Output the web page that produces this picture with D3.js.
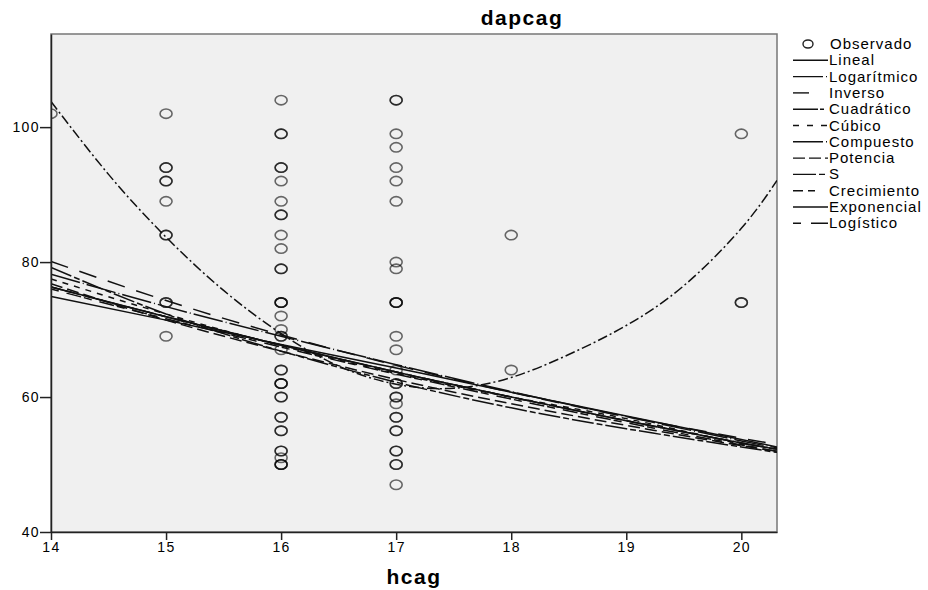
<!DOCTYPE html>
<html lang="es">
    <head>
        <meta charset="utf-8">
        <style>
            body {
                margin: 0;
                background: #fff;
            }

            text {
                font-family: "Liberation Sans", Arial, sans-serif;
                fill: #000;
            }

            .axis text {
                font-size: 14px;
                letter-spacing: 1.4px;
            }

            .axis path, .axis line {
                stroke: #222;
                stroke-width: 1.5px;
            }

            .legend text {
                font-size: 15px;
                letter-spacing: 1px;
            }
        </style>
    </head>
    <body>
        <div id="chart"></div>
        <script src="https://cdn.jsdelivr.net/npm/d3@7"></script>
        <script type="text/javascript" charset="utf-8">
            // observed points (bold circles in the picture are repeated values)
            var hcagObs = [14,
                15, 15, 15, 15, 15, 15, 15, 15, 15, 15, 15,
                16, 16, 16, 16, 16, 16, 16, 16, 16, 16, 16, 16, 16, 16, 16, 16, 16, 16, 16, 16, 16, 16, 16,
                16, 16, 16, 16, 16, 16, 16, 16, 16, 16, 16, 16, 16, 16, 16,
                17, 17, 17, 17, 17, 17, 17, 17, 17, 17, 17, 17, 17, 17, 17, 17, 17, 17, 17, 17, 17, 17, 17,
                17, 17, 17, 17, 17, 17,
                18, 18,
                20, 20, 20];
            var dapcagObs = [102,
                102, 94, 94, 92, 92, 89, 84, 84, 74, 74, 69,
                104, 99, 99, 94, 94, 92, 89, 87, 87, 84, 82, 79, 79, 74, 74, 74, 72, 70, 69, 69, 67, 64, 64,
                62, 62, 62, 60, 60, 57, 57, 55, 55, 52, 52, 51, 50, 50, 50,
                104, 104, 99, 97, 94, 92, 89, 80, 79, 74, 74, 74, 69, 67, 64, 62, 62, 60, 60, 59, 57, 57, 55,
                55, 52, 52, 50, 50, 47,
                84, 64,
                99, 74, 74];

            // fitted curves, values
            var fitX = [14, 15, 16, 17, 18, 19, 20, 20.31];
            var lineal = [74.9, 71.4, 67.8, 64.3, 60.7, 57.2, 53.7, 52.6];
            var logaritmico = [78.2, 73.4, 69.0, 64.8, 60.8, 57.1, 53.5, 52.5];
            var inverso = [80.1, 74.3, 69.2, 64.7, 60.7, 57.1, 53.9, 53.0];
            var cubico = [77.5, 72.3, 67.6, 63.5, 60.0, 56.8, 53.0, 51.8];
            var compuesto = [76.3, 71.9, 67.7, 63.7, 60.0, 56.5, 53.2, 52.3];
            var potencia = [76.8, 71.4, 66.8, 62.6, 59.0, 55.8, 52.8, 52.0];
            var sCurva = [79.2, 72.3, 66.8, 62.2, 58.4, 55.3, 52.6, 51.8];
            var crecimiento = [76.3, 71.9, 67.7, 63.7, 60.0, 56.5, 53.2, 52.3];
            var exponencial = [76.3, 71.9, 67.7, 63.7, 60.0, 56.5, 53.2, 52.3];
            var logistico = [76.0, 71.6, 67.4, 63.4, 59.7, 56.2, 52.9, 52.0];

            var cuadX = [14, 14.5, 15, 15.5, 16, 16.5, 17, 17.5, 18, 18.5, 19, 19.5, 20, 20.31];
            var cuadratico = [103.8, 93.0, 83.7, 75.8, 69.4, 64.6, 61.9, 61.3, 62.9, 66.3, 70.6, 76.5, 85.0, 92.1];

            var xTicks = [14, 15, 16, 17, 18, 19, 20];
            var yTicks = [40, 60, 80, 100];

            var legendNames = ["Lineal", "Logarítmico", "Inverso", "Cuadrático", "Cúbico", "Compuesto",
                "Potencia", "S", "Crecimiento", "Exponencial", "Logístico"];

            var curves = [
                {x: fitX, y: lineal, dash: null},
                {x: fitX, y: logaritmico, dash: "30,3,1,3"},
                {x: fitX, y: inverso, dash: "18,12"},
                {x: cuadX, y: cuadratico, dash: "10,3,2,3"},
                {x: fitX, y: cubico, dash: "6,6"},
                {x: fitX, y: compuesto, dash: "30,3,1,3"},
                {x: fitX, y: potencia, dash: "12,5"},
                {x: fitX, y: sCurva, dash: "22,3,6,3"},
                {x: fitX, y: crecimiento, dash: "10,5,7,10"},
                {x: fitX, y: exponencial, dash: null},
                {x: fitX, y: logistico, dash: "8,8,15,3"}
            ];
            var legendDash = [null, "30,3,1,3", "16,20", "25,2,4,4", "6,8", "30,3,1,3",
                "12,4", "23,3,6,3", "10,5,7,20", null, "8,10,17,3"];

            var width = 928, height = 590;
            var plotL = 51, plotR = 777, plotT = 34, plotB = 532;

            var svg = d3.select("#chart").append("svg")
                .attr("width", width)
                .attr("height", height);

            var x = d3.scaleLinear().domain([14, 20.31]).range([plotL, plotR]);
            var y = d3.scaleLinear().domain([40, 113.8]).range([plotB, plotT]);

            svg.append("rect")
                .attr("x", plotL).attr("y", plotT)
                .attr("width", plotR - plotL).attr("height", plotB - plotT)
                .attr("fill", "#f0f0f0")
                .attr("stroke", "#777")
                .attr("stroke-width", 1.5);

            svg.append("clipPath").attr("id", "plot")
                .append("rect")
                .attr("x", plotL).attr("y", plotT)
                .attr("width", plotR - plotL).attr("height", plotB - plotT);

            var plot = svg.append("g").attr("clip-path", "url(#plot)");

            plot.selectAll("ellipse")
                .data(hcagObs).enter()
                .append("ellipse")
                .attr("cx", function(d) { return x(d); })
                .attr("cy", function(d, i) { return y(dapcagObs[i]); })
                .attr("rx", 6)
                .attr("ry", 4.7)
                .attr("fill", "none")
                .attr("stroke", "#000")
                .attr("stroke-opacity", 0.58)
                .attr("stroke-width", 1.6);

            curves.forEach(function(c) {
                var line = d3.line()
                    .x(function(d, i) { return x(c.x[i]); })
                    .y(function(d) { return y(d); })
                    .curve(d3.curveNatural);
                plot.append("path")
                    .attr("d", line(c.y))
                    .attr("fill", "none")
                    .attr("stroke", "#111")
                    .attr("stroke-width", 1.5)
                    .attr("stroke-dasharray", c.dash);
            });

            svg.append("g")
                .attr("class", "axis")
                .attr("transform", "translate(0," + plotB + ")")
                .call(d3.axisBottom(x).tickValues(xTicks).tickFormat(d3.format("d"))
                    .tickSize(8).tickSizeOuter(0).tickPadding(2));

            svg.append("g")
                .attr("class", "axis")
                .attr("transform", "translate(" + plotL + ",0)")
                .call(d3.axisLeft(y).tickValues(yTicks).tickFormat(d3.format("d"))
                    .tickSize(11).tickSizeOuter(0).tickPadding(0));

            svg.append("text")
                .attr("x", 522).attr("y", 25)
                .attr("text-anchor", "middle")
                .style("font-size", "21px")
                .style("font-weight", "bold")
                .style("letter-spacing", "1.5px")
                .text("dapcag");

            svg.append("text")
                .attr("x", (plotL + plotR) / 2).attr("y", 584)
                .attr("text-anchor", "middle")
                .style("font-size", "21px")
                .style("font-weight", "bold")
                .style("letter-spacing", "1.5px")
                .text("hcag");

            // legend
            var legend = svg.append("g")
                .attr("class", "legend")
                .attr("transform", "translate(793,44)");

            legend.append("ellipse")
                .attr("cx", 15).attr("cy", 0)
                .attr("rx", 5).attr("ry", 4)
                .attr("fill", "none")
                .attr("stroke", "#222")
                .attr("stroke-width", 1.4);
            legend.append("text")
                .attr("x", 37).attr("y", 5)
                .text("Observado");

            var rows = legend.selectAll("g.row")
                .data(legendNames).enter()
                .append("g")
                .attr("class", "row")
                .attr("transform", function(d, i) { return "translate(0," + (16.3 * (i + 1)) + ")"; });

            rows.append("line")
                .attr("x1", 0).attr("x2", 35)
                .attr("y1", 0).attr("y2", 0)
                .attr("stroke", "#111")
                .attr("stroke-width", 1.4)
                .attr("stroke-dasharray", function(d, i) { return legendDash[i]; });

            rows.append("text")
                .attr("x", 36).attr("y", 5)
                .text(function(d) { return d; });
        </script>
    </body>
</html>
